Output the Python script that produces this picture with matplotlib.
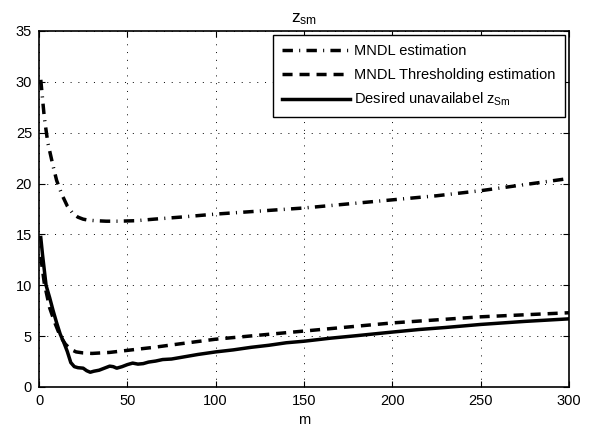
import matplotlib
matplotlib.use("Agg")
import matplotlib.pyplot as plt

plt.rcParams['font.family'] = ['Liberation Sans', 'DejaVu Sans']
plt.rcParams['mathtext.fontset'] = 'custom'
plt.rcParams['mathtext.rm'] = 'Liberation Sans'
plt.rcParams['mathtext.it'] = 'Liberation Sans'

# MNDL estimation
m_est = [1, 3, 5, 8, 10, 13, 16, 19, 22, 25, 28, 32, 38, 45, 55, 65, 80, 100,
         125, 150, 175, 200, 225, 250, 275, 300]
z_est = [30.2, 26.5, 24.0, 21.7, 20.3, 18.9, 17.8, 17.1, 16.7, 16.5, 16.4, 16.35,
         16.3, 16.3, 16.35, 16.5, 16.7, 17.0, 17.3, 17.6, 18.0, 18.4, 18.8, 19.3,
         19.9, 20.5]

# MNDL Thresholding estimation
m_thr = [1, 3, 6, 9, 12, 15, 18, 21, 25, 30, 40, 50, 65, 80, 100, 125, 150, 175,
         200, 225, 250, 275, 300]
z_thr = [12.8, 10.2, 7.8, 6.3, 5.0, 4.2, 3.7, 3.45, 3.35, 3.3, 3.4, 3.6, 3.9,
         4.25, 4.7, 5.1, 5.5, 5.9, 6.3, 6.6, 6.9, 7.1, 7.3]

# Desired unavailabel z_Sm
m_des = [1, 2, 4, 6, 8, 10, 12, 14, 16, 18, 20, 22, 25, 27, 29, 31, 34, 37, 40,
         42, 44, 47, 50, 53, 56, 59, 62, 66, 70, 75, 80, 90, 100, 110, 120, 130,
         140, 150, 165, 180, 200, 215, 230, 250, 275, 300]
z_des = [14.7, 13.0, 10.0, 8.8, 7.5, 6.3, 5.2, 4.4, 3.5, 2.4, 2.0, 1.9, 1.85,
         1.6, 1.45, 1.55, 1.65, 1.85, 2.05, 2.0, 1.85, 2.0, 2.2, 2.35, 2.25, 2.3,
         2.45, 2.55, 2.7, 2.75, 2.9, 3.2, 3.45, 3.65, 3.9, 4.1, 4.35, 4.5, 4.8,
         5.05, 5.4, 5.65, 5.85, 6.15, 6.45, 6.7]

x_ticks = [0, 50, 100, 150, 200, 250, 300]
y_ticks = [0, 5, 10, 15, 20, 25, 30, 35]

fig = plt.figure(figsize=(5.93, 4.30), dpi=100)
ax = fig.add_axes([39/593, 43/430, 530/593, 356/430])

lw = 2.5
ax.plot(m_est, z_est, color='black', lw=lw, linestyle=(0, (3.0, 1.8, 0.3, 1.8)),
        label='MNDL estimation')
ax.plot(m_thr, z_thr, color='black', lw=lw, linestyle=(0, (2.9, 2.0)),
        label='MNDL Thresholding estimation')
ax.plot(m_des, z_des, color='black', lw=lw, linestyle='-',
        label=r'Desired unavailabel $\mathregular{z_{Sm}}$')

ax.set_xlim(0, 300)
ax.set_ylim(0, 35)
ax.set_xticks(x_ticks)
ax.set_yticks(y_ticks)
ax.tick_params(direction='in', top=True, right=True, labelsize=10.5, length=4,
               width=0.8, pad=5)
ax.grid(True, linestyle=(0, (1, 7)), color='black', linewidth=0.7)
for s in ax.spines.values():
    s.set_linewidth(1.2)

ax.set_title(r'$\mathregular{z_{sm}}$', fontsize=12.5, pad=6)
ax.set_xlabel('m', fontsize=10.5, labelpad=4)

leg = ax.legend(loc='upper right', fontsize=10.5, frameon=True, fancybox=False,
                edgecolor='black', framealpha=1, handlelength=4.7,
                borderaxespad=0.3, labelspacing=0.65, handletextpad=0.3,
                borderpad=0.6)
leg.get_frame().set_linewidth(1.0)

fig.savefig('out.png', dpi=100)
